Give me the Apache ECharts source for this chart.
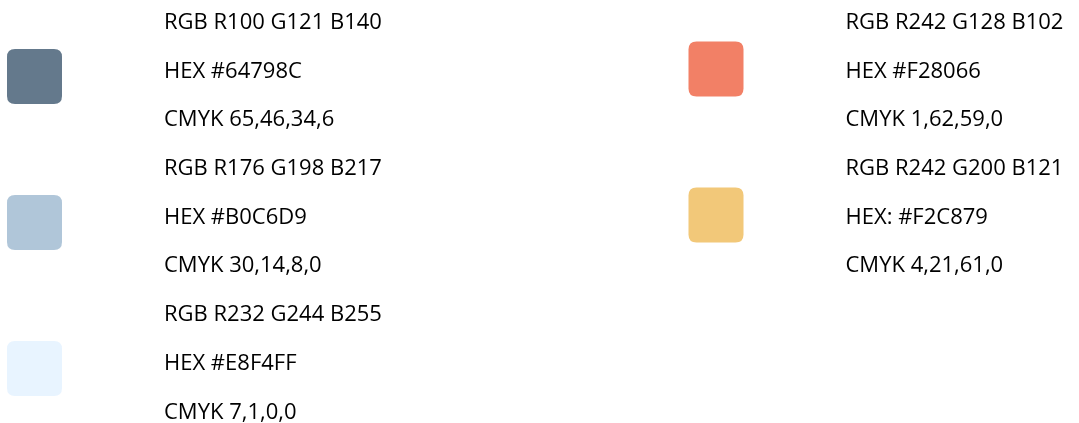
<!DOCTYPE html>
<html>
<head>
<meta charset="utf-8">
<script src="https://cdn.jsdelivr.net/npm/echarts@6/dist/echarts.min.js"></script>
<style>
html,body{margin:0;padding:0;background:#fff;}
#main{width:1079px;height:423px;}
</style>
</head>
<body>
<div id="main"></div>
<script>
// Palette data
const columns = ['left', 'right'];
const rows = ['0','1','2','3','4','5','6','7','8'];
const swatchColors = ['#64798C', '#B0C6D9', '#E8F4FF', '#F28066', '#F2C879'];
const swatchColumn = [0, 0, 0, 1, 1];
const swatchBlock = [0, 1, 2, 0, 1];
const rgbLabels = ['RGB R100 G121 B140', 'RGB R176 G198 B217', 'RGB R232 G244 B255', 'RGB R242 G128 B102', 'RGB R242 G200 B121'];
const hexLabels = ['HEX #64798C', 'HEX #B0C6D9', 'HEX #E8F4FF', 'HEX #F28066', 'HEX: #F2C879'];
const cmykLabels = ['CMYK 65,46,34,6', 'CMYK 30,14,8,0', 'CMYK 7,1,0,0', 'CMYK 1,62,59,0', 'CMYK 4,21,61,0'];

const FONT = '"Open Sans"';
const FONT_SIZE = 22;

// rounded square symbol
const roundSquare = 'path://M8,0 L47,0 Q55,0 55,8 L55,47 Q55,55 47,55 L8,55 Q0,55 0,47 L0,8 Q0,0 8,0 Z';

const leftSwatches = [], rightSwatches = [], textPoints = [];
swatchColors.forEach(function (c, i) {
  const col = swatchColumn[i];
  const baseRow = swatchBlock[i] * 3;
  const pt = { value: [col, baseRow + 1], itemStyle: { color: c, opacity: 1 } };
  (col === 0 ? leftSwatches : rightSwatches).push(pt);
  [rgbLabels[i], hexLabels[i], cmykLabels[i]].forEach(function (t, k) {
    textPoints.push({ value: [col, baseRow + k], name: t });
  });
});

const chart = echarts.init(document.getElementById('main'), null, { renderer: 'canvas' });
chart.setOption({
  animation: false,
  backgroundColor: '#ffffff',
  grid: { left: 34.5, width: 681.5, top: 22.7, height: 389.6, containLabel: false },
  xAxis: { type: 'category', data: columns, boundaryGap: false, show: false },
  yAxis: { type: 'category', data: rows, boundaryGap: false, inverse: true, show: false },
  series: [
    {
      type: 'scatter', data: leftSwatches, symbol: roundSquare, symbolSize: [55, 55],
      symbolOffset: [0, 5], silent: true, itemStyle: { opacity: 1 }
    },
    {
      type: 'scatter', data: rightSwatches, symbol: roundSquare, symbolSize: [55, 55],
      symbolOffset: [0, -2.5], silent: true, itemStyle: { opacity: 1 }
    },
    {
      type: 'scatter', data: textPoints, symbolSize: 0, silent: true,
      itemStyle: { opacity: 1 },
      label: {
        show: true, position: [129.5, 0], align: 'left', verticalAlign: 'middle',
        formatter: function (p) { return p.name; },
        color: '#000000', opacity: 1, fontFamily: FONT, fontSize: FONT_SIZE
      }
    }
  ]
});
</script>
</body>
</html>
